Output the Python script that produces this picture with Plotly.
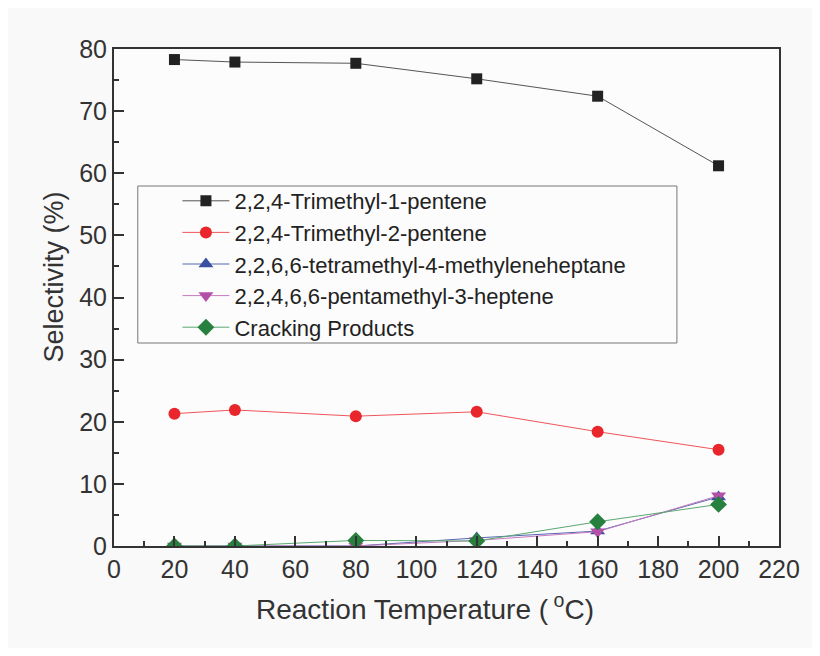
import plotly.graph_objects as go

temps = [20, 40, 80, 120, 160, 200]
tmp1 = [78.3, 77.9, 77.7, 75.2, 72.4, 61.2]
tmp2 = [21.3, 21.9, 20.9, 21.6, 18.4, 15.5]
tetra = [0.0, 0.0, 0.0, 1.3, 2.4, 7.9]
penta = [0.0, 0.0, 0.0, 0.9, 2.3, 8.1]
cracking = [0.0, 0.0, 0.9, 0.8, 3.9, 6.7]

names = ["2,2,4-Trimethyl-1-pentene", "2,2,4-Trimethyl-2-pentene",
         "2,2,6,6-tetramethyl-4-methyleneheptane", "2,2,4,6,6-pentamethyl-3-heptene",
         "Cracking Products"]
series = [tmp1, tmp2, tetra, penta, cracking]
marker_colors = ["#222222", "#e8262b", "#3a4fa0", "#b350a8", "#27803d"]
line_colors = ["#555555", "#f0555a", "#5566b0", "#c77ac0", "#5aa870"]
symbols = ["square", "circle", "triangle-up", "triangle-down", "diamond"]
sizes = [11, 12, 13, 13, 13]

x_title = "Reaction Temperature (<sup> o</sup>C)"
y_title = "Selectivity (%)"

fig = go.Figure()
for n, s, mc, lc, sym, sz in zip(names, series, marker_colors, line_colors, symbols, sizes):
    fig.add_trace(go.Scatter(
        x=temps, y=s, name=n, mode="lines+markers",
        line=dict(color=lc, width=1),
        marker=dict(symbol=sym, size=sz, color=mc, line=dict(width=0)),
    ))

FONT = "Liberation Sans, Arial"
axis_common = dict(
    showline=True, linewidth=2, linecolor="#333333", mirror=True,
    ticks="inside", ticklen=10, tickwidth=2, tickcolor="#333333",
    showgrid=False, zeroline=False,
    tickfont=dict(family=FONT, size=25, color="#333333"),
)

fig.update_xaxes(
    range=[0, 220], dtick=20, tick0=0,
    minor=dict(ticks="inside", ticklen=5, tickwidth=2, tickcolor="#333333", dtick=10),
    **axis_common,
)
fig.update_yaxes(
    range=[0, 80], dtick=10, tick0=0,
    minor=dict(ticks="inside", ticklen=5, tickwidth=2, tickcolor="#333333", dtick=5),
    **axis_common,
)

W, H = 671, 497  # plot area size in px
# axis titles (placed as in the reference)
fig.add_annotation(text=x_title, xref="paper", yref="paper",
                   x=(428 - 114) / W, y=-(607 - 546) / H, xanchor="center", yanchor="middle",
                   showarrow=False, font=dict(family=FONT, size=28, color="#333333"))
fig.add_annotation(text=y_title, xref="paper", yref="paper", textangle=-90,
                   x=-(114 - 53) / W, y=(546 - 277) / H, xanchor="center", yanchor="middle",
                   showarrow=False, font=dict(family=FONT, size=27, color="#333333"))

# legend frame
fig.add_shape(type="rect", xref="paper", yref="paper",
              x0=(138 - 114) / W, x1=(682 - 114) / W,
              y0=(546 - 343) / H, y1=(546 - 186) / H,
              line=dict(color="#777777", width=1), fillcolor="rgba(0,0,0,0)", layer="below")

fig.update_layout(
    width=804, height=640,
    margin=dict(l=106, r=27, t=41, b=102),
    paper_bgcolor="#f9f9f9", plot_bgcolor="#fcfcfc",
    showlegend=True,
    legend=dict(x=(178 - 114) / W, y=(546 - 180) / H, xanchor="left", yanchor="top",
                bgcolor="rgba(0,0,0,0)", borderwidth=0,
                font=dict(family=FONT, size=22, color="#222222"),
                tracegroupgap=0, itemwidth=47),
)

fig.write_html("out.html")
